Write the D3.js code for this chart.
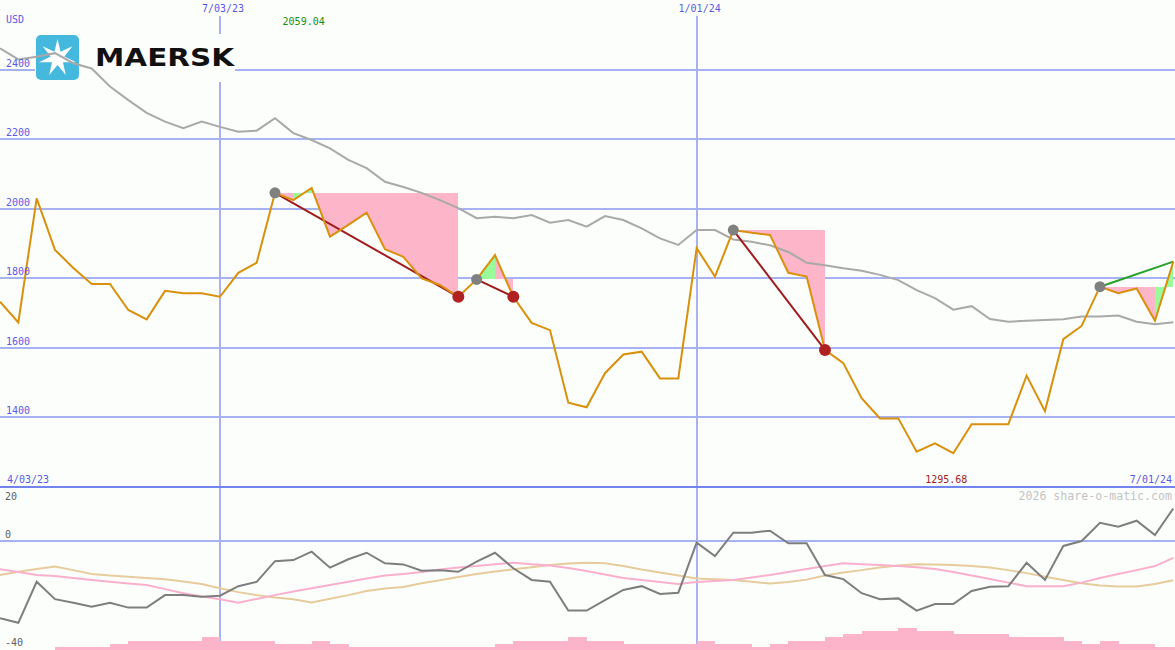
<!DOCTYPE html>
<html><head><meta charset="utf-8">
<script src="https://cdn.jsdelivr.net/npm/d3@7"></script>
<style>html,body{margin:0;padding:0;background:#fcfefc;overflow:hidden}</style>
</head><body><svg id="c" width="1175" height="650"></svg>
<script>
// ---- data (weekly, 10 Apr 2023 .. 1 Jul 2024) ----
const startWeek = "2023-04-10", endWeek = "2024-07-01";
const price = [1732,1672,2029,1881,1829,1783,1783,1708,1681,1763,1756,1756,1746,1815,1844,2045,2024,2059.04,1919,1953,
  1988,1883,1861,1799,1780,1746,1796,1866,1746,1671,1650,1441,1428,1526,1580,1588,1511,1511,1886,1804,
  1938,1930,1924,1815,1804,1593,1555,1454,1396,1396,1300,1324,1295.68,1379,1379,1379,1519,1417,1624,1662,
  1775,1756,1770,1677,1847];
const priceMA = [2461,2429,2437,2447,2418,2403,2351,2312,2275,2250,2231,2250,2235,2221,2224,2260,2217,2197,2173,2140,
  2116,2077,2062,2045,2024,2001,1972,1976,1972,1981,1959,1967,1948,1978,1967,1943,1914,1895,1938,1938,
  1911,1904,1894,1875,1844,1837,1828,1821,1809,1794,1765,1742,1709,1719,1682,1674,1677,1679,1681,1689,
  1689,1692,1674,1667,1673];
const osc = [-28.3,-30.0,-14.9,-21.3,-22.6,-24.1,-22.6,-24.4,-24.4,-19.8,-19.8,-20.4,-20.0,-16.5,-14.9,-7.3,-6.9,-3.8,-9.7,-6.6,
  -4.2,-8.1,-8.5,-10.8,-10.6,-11.2,-7.5,-4.2,-9.9,-14.2,-14.9,-25.5,-25.5,-21.6,-17.9,-16.5,-19.4,-18.9,-0.5,-5.4,
  3.2,3.2,3.9,-0.7,-0.7,-12.4,-13.9,-19.1,-21.3,-21.0,-25.5,-23.1,-23.1,-18.3,-16.7,-16.5,-7.9,-14.2,-1.7,0.1,
  6.8,5.4,7.6,2.3,12.1];
const oscPink = [-10.3,-11.3,-12.4,-12.8,-13.5,-14.2,-14.9,-15.5,-16.1,-17.6,-19.1,-20.3,-21.3,-22.6,-21.2,-19.8,-18.5,-17.3,-16.1,-14.9,
  -13.7,-12.6,-12.0,-11.3,-10.4,-9.6,-9.1,-8.4,-7.9,-8.4,-8.9,-9.8,-10.9,-12.2,-13.5,-14.2,-15.0,-15.7,-15.0,-14.6,
  -14.2,-13.3,-12.4,-11.3,-10.2,-9.1,-8.1,-8.4,-8.7,-9.1,-9.5,-10.2,-11.3,-12.6,-13.9,-15.2,-16.5,-16.5,-16.5,-15.2,
  -13.5,-12.0,-10.6,-9.1,-6.1];
const oscTan = [-12.4,-11.2,-10.2,-9.3,-10.6,-12.0,-12.6,-13.0,-13.5,-14.0,-14.8,-15.7,-17.3,-18.7,-19.8,-20.7,-21.3,-22.5,-21.1,-19.8,
  -18.3,-17.4,-16.8,-15.4,-14.3,-13.1,-12.0,-11.1,-10.3,-9.5,-8.7,-8.2,-7.9,-8.1,-9.1,-10.4,-11.5,-12.6,-13.7,-14.0,
  -14.2,-14.9,-15.5,-15.0,-14.1,-12.6,-11.5,-10.6,-9.6,-8.9,-8.4,-8.5,-8.7,-9.1,-9.6,-10.6,-11.7,-13.0,-14.2,-15.4,
  -16.3,-16.6,-16.6,-15.7,-14.3];
const volume = [0,0,0,1,1,1,2,3,3,3,3,4,3,3,3,2,2,3,2,1,
  1,1,1,1,1,1,1,2,3,3,3,4,3,3,2,2,2,2,3,2,
  2,1,2,3,3,4,5,6,6,7,6,6,5,5,5,4,4,4,3,2,
  3,2,2,1,1];
const priceTicks = [1400,1600,1800,2000,2200,2400];
const oscTicks = [20,0,-40];
const dateTicks = ["2023-07-03","2024-01-01"];
const dateTickLabels = ["7/03/23","1/01/24"];
const cornerLabels = ["4/03/23","7/01/24"];
const sigStart = [15,26,40,60], sigEnd = [25,28,45,64], sigOpen = [false,false,false,true];

// ---- setup ----
const W = 1175, H = 650;
const svg = d3.select("#c");
const parse = d3.utcParse("%Y-%m-%d");
const dates = d3.utcMonday.range(parse(startWeek), d3.utcDay.offset(parse(endWeek), 1));
const x = d3.scaleUtc().domain([dates[0], dates[dates.length-1]]).range([0, 1173.3]);
const y = d3.scaleLinear().domain([1200, 2600]).range([486.5, 0]);
const yo = d3.scaleLinear().domain([-40, 20]).range([650, 487]);
const yv = d3.scaleLinear().domain([0, 10]).range([0, 31.5]);
const GRID = "#a6b2f2", AX = "#5a5ae6", FONT = "'DejaVu Sans Mono', monospace";

svg.append("rect").attr("width", W).attr("height", H).attr("fill", "#fcfefc");

// gridlines
const g = svg.append("g").attr("shape-rendering", "crispEdges");
g.selectAll(".hg").data(priceTicks).join("line")
  .attr("x1", 0).attr("x2", W).attr("y1", d => Math.round(y(d))).attr("y2", d => Math.round(y(d)))
  .attr("stroke", GRID).attr("stroke-width", 2);
g.selectAll(".vg").data(dateTicks).join("line")
  .attr("x1", d => Math.round(x(parse(d)))).attr("x2", d => Math.round(x(parse(d))))
  .attr("y1", 16).attr("y2", H).attr("stroke", GRID).attr("stroke-width", 2);
g.append("line").attr("x1", 0).attr("x2", W).attr("y1", Math.round(yo(0))).attr("y2", Math.round(yo(0)))
  .attr("stroke", GRID).attr("stroke-width", 2);
g.append("line").attr("x1", 0).attr("x2", W).attr("y1", 487).attr("y2", 487)
  .attr("stroke", "#7484ee").attr("stroke-width", 2);

// logo
const logo = svg.append("g");
logo.append("rect").attr("x", 35).attr("y", 34).attr("width", 200).attr("height", 48).attr("fill", "#fcfefc");
logo.append("rect").attr("x", 36).attr("y", 35).attr("width", 43).attr("height", 45).attr("rx", 5).attr("fill", "#45b9dd");
const starPts = [];
for (let i = 0; i < 14; i++) {
  const r = i % 2 === 0 ? 19 : 7;
  const a = -Math.PI / 2 + i * Math.PI / 7;
  starPts.push([57.5 + r * Math.cos(a), 58 + r * Math.sin(a)]);
}
logo.append("polygon").attr("points", starPts.map(p => p.join(",")).join(" ")).attr("fill", "#ffffff");
logo.append("text").attr("x", 95).attr("y", 66).attr("textLength", 139).attr("lengthAdjust", "spacingAndGlyphs")
  .attr("font-family", "'DejaVu Sans', sans-serif").attr("font-weight", "bold").attr("font-size", 24)
  .attr("fill", "#111").text("MAERSK");

// signal fills
const fills = svg.append("g").attr("shape-rendering", "crispEdges");
sigStart.forEach((s, i) => {
  const e = sigEnd[i], lvl = price[s];
  for (let k = s; k < e; k++) {
    const pts = [[x(dates[k]), y(lvl)], [x(dates[k]), y(price[k])], [x(dates[k+1]), y(price[k+1])], [x(dates[k+1]), y(lvl)]];
    fills.append("polygon").attr("points", pts.map(p => p.join(",")).join(" "))
      .attr("fill", price[k+1] > lvl ? "#99fb99" : "#fdb5c9");
  }
});

// moving average
const line = (arr, ys) => d3.line().x((d, i) => x(dates[i])).y(d => ys(d))(arr);
svg.append("path").attr("d", line(priceMA, y)).attr("fill", "none").attr("stroke", "#a9a9a9").attr("stroke-width", 2);

// trend lines
sigStart.forEach((s, i) => {
  const e = sigEnd[i];
  svg.append("line").attr("x1", x(dates[s])).attr("y1", y(price[s])).attr("x2", x(dates[e])).attr("y2", y(price[e]))
    .attr("stroke", sigOpen[i] ? "#26a326" : "#a01c1c").attr("stroke-width", 2);
});

// price line
svg.append("path").attr("d", line(price, y)).attr("fill", "none").attr("stroke", "#d9900c").attr("stroke-width", 2);

// dots
sigStart.forEach((s, i) => {
  svg.append("circle").attr("cx", x(dates[s])).attr("cy", y(price[s])).attr("r", 5.5).attr("fill", "#808080");
  if (!sigOpen[i]) svg.append("circle").attr("cx", x(dates[sigEnd[i]])).attr("cy", y(price[sigEnd[i]])).attr("r", 6).attr("fill", "#b02222");
});

// lower panel
svg.append("g").selectAll("rect").data(volume).join("rect")
  .attr("x", (d, i) => x(dates[i])).attr("width", x(dates[1]) - x(dates[0]) + 0.5)
  .attr("y", d => H - yv(d)).attr("height", d => yv(d)).attr("fill", "#fbb4c9").attr("shape-rendering", "crispEdges");
svg.append("path").attr("d", line(oscTan, yo)).attr("fill", "none").attr("stroke", "#e6cc9c").attr("stroke-width", 2);
svg.append("path").attr("d", line(oscPink, yo)).attr("fill", "none").attr("stroke", "#f8b0cc").attr("stroke-width", 2);
svg.append("path").attr("d", line(osc, yo)).attr("fill", "none").attr("stroke", "#7e7e7e").attr("stroke-width", 2);

// texts
const T = (tx, ty, s, col, anchor, size) => svg.append("text").attr("x", tx).attr("y", ty).text(s)
  .attr("fill", col).attr("font-family", FONT).attr("font-size", size || 10).attr("text-anchor", anchor || "start");
T(6, 23, "USD", AX);
priceTicks.forEach(v => T(6, Math.round(y(v)) - 3, String(v), AX));
dateTicks.forEach((d, i) => T(x(parse(d)) + 3, 12, dateTickLabels[i], AX, "middle"));
T(7, 483, cornerLabels[0], AX);
T(1172, 483, cornerLabels[1], AX, "end");
const iMax = d3.maxIndex(price), iMin = d3.minIndex(price);
T(x(dates[iMax]) - 8, 25, d3.format(".2f")(price[iMax]), "#149014", "middle");
T(x(dates[iMin]) - 7, 483, d3.format(".2f")(price[iMin]), "#a01c1c", "middle");
T(5, 500, String(oscTicks[0]), "#606060");
T(5, 538, String(oscTicks[1]), "#606060");
T(5, 646, String(oscTicks[2]), "#606060");
T(1172, 500, "2026 share-o-matic.com", "#c4c4c4", "end", 11.6);
</script></body></html>
